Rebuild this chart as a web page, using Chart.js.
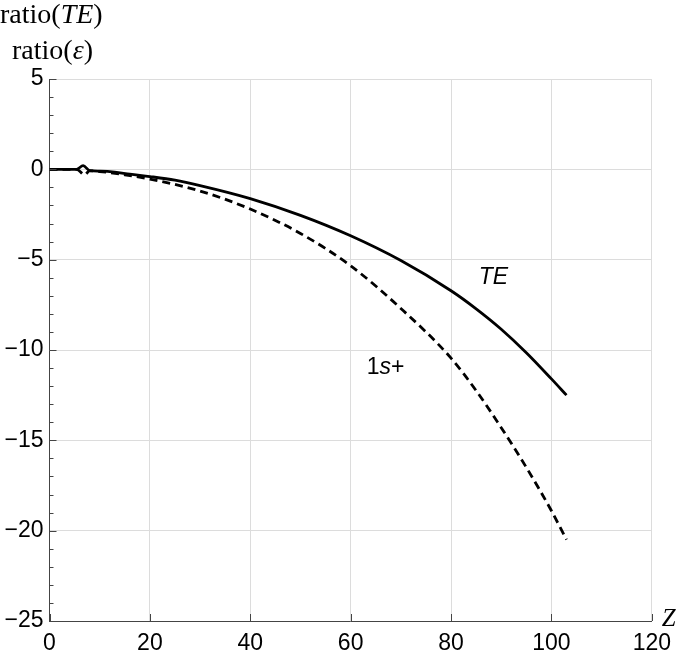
<!DOCTYPE html>
<html>
<head>
<meta charset="utf-8">
<script src="https://cdn.jsdelivr.net/npm/chart.js@4.4.1/dist/chart.umd.min.js"></script>
<style>
  html, body { margin: 0; padding: 0; background: #fff; }
  #wrap { position: relative; width: 680px; height: 651px; }
</style>
</head>
<body>
<div id="wrap"><canvas id="ratioChart" width="680" height="651"></canvas></div>
<script>
// values
const zTE = [0, 5.4, 6.7, 8, 10, 13, 16, 20, 25, 30, 40, 50, 60, 70, 80, 85, 90, 95, 100, 103];
const ratioTE = [0, 0, 0.2, -0.07, -0.1, -0.15, -0.27, -0.4, -0.6, -0.9, -1.62, -2.55, -3.68, -5.05, -6.72, -7.72, -8.85, -10.15, -11.6, -12.5];

const z1s = [0, 5.4, 7, 8, 10, 15, 20, 30, 40, 50, 60, 70, 80, 85, 90, 95, 100, 103];
const ratio1s = [0, 0, -0.3, -0.08, -0.12, -0.3, -0.54, -1.2, -2.2, -3.55, -5.34, -7.7, -10.45, -12.25, -14.3, -16.5, -18.9, -20.5];

const xTicks = [0, 20, 40, 60, 80, 100, 120];
const yTicks = [5, 0, -5, -10, -15, -20, -25];

const tickFont = { family: 'Liberation Sans, Arial, sans-serif', size: 23 };

function toPoints(xs, ys) {
    return xs.map((x, i) => ({ x: x, y: ys[i] }));
}

function minus(v) {
    return v < 0 ? '\u2212' + Math.abs(v) : String(v);
}

// inward minor ticks + text labels
const extras = {
    id: 'extras',
    afterDraw(chart) {
        const ctx = chart.ctx;
        const xs = chart.scales.x, ys = chart.scales.y;
        const area = chart.chartArea;
        ctx.save();
        ctx.strokeStyle = '#444';
        ctx.lineWidth = 1;
        ctx.beginPath();
        for (let v = -25; v <= 5; v++) {
            const py = Math.round(ys.getPixelForValue(v)) + 0.5;
            const len = v % 5 === 0 ? 7 : 4;
            ctx.moveTo(area.left, py);
            ctx.lineTo(area.left + len, py);
        }
        xTicks.forEach(v => {
            const px = Math.round(xs.getPixelForValue(v)) + 0.5;
            ctx.moveTo(px, area.bottom);
            ctx.lineTo(px, area.bottom - 7);
        });
        ctx.stroke();

        ctx.fillStyle = '#000';
        ctx.textBaseline = 'middle';
        ctx.textAlign = 'left';

        // axis titles
        const serif = 'Liberation Serif, Times New Roman, serif';
        function runs(parts, x, y) {
            parts.forEach(p => {
                ctx.font = p[1];
                ctx.fillText(p[0], x, y);
                x += ctx.measureText(p[0]).width;
            });
        }
        runs([['ratio(', '28px ' + serif], ['TE', 'italic 28px ' + serif], [')', '28px ' + serif]], 0, 16);
        runs([['ratio(', '28px ' + serif], ['\u03b5', 'italic 28px ' + serif], [')', '28px ' + serif]], 12, 52);
        runs([['Z', 'italic 25px ' + serif]], area.right + 10, area.bottom - 2);

        // curve labels
        const sans = 'Liberation Sans, Arial, sans-serif';
        runs([['TE', 'italic 23px ' + sans]], xs.getPixelForValue(85.5), ys.getPixelForValue(-6.0));
        runs([['1', '23px ' + sans], ['s', 'italic 23px ' + sans], ['+', '23px ' + sans]],
            xs.getPixelForValue(63.2), ys.getPixelForValue(-11.0));
        ctx.restore();
    }
};

new Chart('ratioChart', {
    type: 'line',
    data: {
        datasets: [
            {
                label: 'TE',
                data: toPoints(zTE, ratioTE),
                borderColor: '#000',
                borderWidth: 2.8,
                pointRadius: 0,
                cubicInterpolationMode: 'monotone',
                fill: false
            },
            {
                label: '1s+',
                data: toPoints(z1s, ratio1s),
                borderColor: '#000',
                borderWidth: 2.8,
                borderDash: [8, 5],
                pointRadius: 0,
                cubicInterpolationMode: 'monotone',
                fill: false
            }
        ]
    },
    options: {
        responsive: false,
        animation: false,
        layout: { padding: { left: 0, top: 79, right: 28, bottom: 0 } },
        plugins: {
            legend: { display: false },
            tooltip: { enabled: false }
        },
        scales: {
            x: {
                type: 'linear',
                min: 0,
                max: 120,
                afterBuildTicks: s => { s.ticks = xTicks.map(v => ({ value: v })); },
                afterFit: s => { s.height = 30; },
                grid: { color: '#dcdcdc', drawTicks: false },
                border: { color: '#444', width: 1 },
                ticks: { font: tickFont, color: '#000', padding: 9, maxRotation: 0 }
            },
            y: {
                type: 'linear',
                min: -25,
                max: 5,
                afterBuildTicks: s => { s.ticks = yTicks.map(v => ({ value: v })); },
                afterFit: s => { s.width = 49.5; },
                grid: { color: '#dcdcdc', drawTicks: false },
                border: { color: '#444', width: 1 },
                ticks: { font: tickFont, color: '#000', padding: 6, callback: v => minus(v) }
            }
        }
    },
    plugins: [extras]
});
</script>
</body>
</html>
